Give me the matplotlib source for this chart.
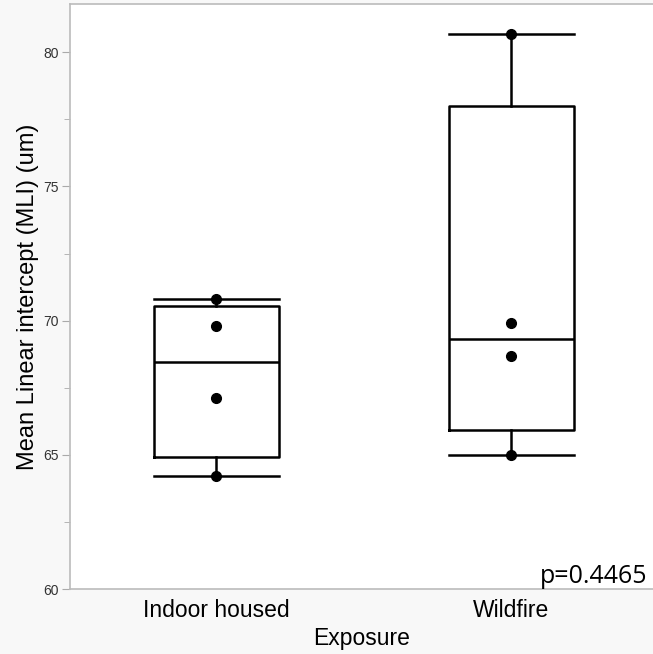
import numpy as np
import matplotlib
matplotlib.use("Agg")
import matplotlib.pyplot as plt
from matplotlib.ticker import MultipleLocator

# Values (one point per animal)
groups = ["Indoor housed", "Wildfire"]
indoor_mli = [70.8, 69.8, 67.1, 64.2]
wildfire_mli = [80.7, 69.9, 68.7, 65.0]
p_value = 0.4465

plt.rcParams["font.family"] = ["Liberation Sans", "DejaVu Sans"]

fig = plt.figure(figsize=(6.53, 6.54), dpi=100, facecolor="#f8f8f8")
ax = fig.add_axes([70 / 653, 1 - 589 / 654, 583 / 653, 585 / 654])
ax.set_facecolor("white")

# JMP-style quartiles ((n+1)p), whiskers to min/max
stats = []
for label, vals in zip(groups, [indoor_mli, wildfire_mli]):
    v = np.asarray(vals)
    q1, med, q3 = np.percentile(v, [25, 50, 75], method="weibull")
    stats.append({"label": label, "med": med, "q1": q1, "q3": q3,
                  "whislo": v.min(), "whishi": v.max(), "fliers": []})

line = {"color": "black", "linewidth": 1.8}
ax.bxp(stats, positions=[0, 1], widths=0.424, capwidths=0.424,
       boxprops=line, whiskerprops=line, capprops=line,
       medianprops=line, showfliers=False)

for pos, vals in zip([0, 1], [indoor_mli, wildfire_mli]):
    ax.plot([pos] * len(vals), vals, "o", color="black", markersize=7, zorder=5)

ax.set_xlim(-0.495, 1.48)
ax.set_ylim(60, 81.8)
ax.yaxis.set_major_locator(MultipleLocator(5))
ax.yaxis.set_minor_locator(MultipleLocator(2.5))
ax.tick_params(axis="y", which="both", direction="out", color="#aaaaaa",
               labelsize=10, labelcolor="#333333", pad=2)
ax.tick_params(axis="y", which="major", length=6)
ax.tick_params(axis="y", which="minor", length=4)
ax.tick_params(axis="x", length=0, labelsize=16.5, pad=7)
ax.set_xticks([0, 1])
ax.set_xticklabels(groups)

for side in ["left", "top", "bottom"]:
    ax.spines[side].set_color("#bbbbbb")
    ax.spines[side].set_linewidth(1.2)
ax.spines["right"].set_visible(False)

ax.set_xlabel("Exposure", fontsize=16.5, labelpad=4)
ax.set_ylabel("Mean Linear intercept (MLI) (um)", fontsize=17, labelpad=3)

ax.text(0.991, 0.0103, f"p={p_value}", transform=ax.transAxes, ha="right",
        va="baseline", fontsize=18, family=["Open Sans", "DejaVu Sans"])

fig.savefig("out.png", dpi=100, facecolor=fig.get_facecolor())
